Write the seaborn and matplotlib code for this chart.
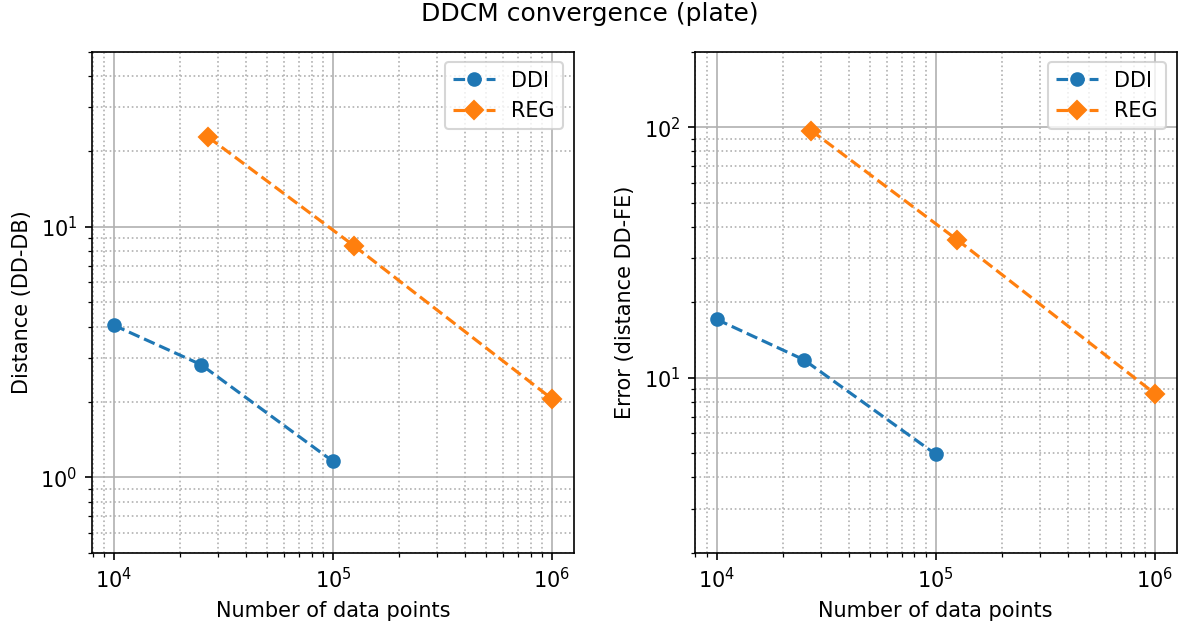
import matplotlib
matplotlib.use("Agg")
import matplotlib.pyplot as plt
import seaborn as sns

# data
ddi_n = [1e4, 2.5e4, 1e5]
reg_n = [2.7e4, 1.25e5, 1e6]

ddi_dist = [4.05, 2.82, 1.16]
reg_dist = [22.8, 8.4, 2.06]

ddi_err = [17.1, 11.8, 4.95]
reg_err = [97.0, 35.6, 8.65]

panels = [
    (ddi_dist, reg_dist, "Distance (DD-DB)", (0.5, 50)),
    (ddi_err, reg_err, "Error (distance DD-FE)", (2, 200)),
]

plt.rcParams['font.family'] = ['DejaVu Sans']
fig, axes = plt.subplots(1, 2, figsize=(7.86, 4.16), dpi=150)

for ax, (ddi_y, reg_y, ylabel, ylim) in zip(axes, panels):
    sns.lineplot(x=ddi_n, y=ddi_y, ax=ax, color='C0', marker='o', markersize=6,
                 markeredgewidth=1, markeredgecolor='C0', linestyle='--',
                 linewidth=1.5, label='DDI')
    sns.lineplot(x=reg_n, y=reg_y, ax=ax, color='C1', marker='D', markersize=6,
                 markeredgewidth=1, markeredgecolor='C1', linestyle='--',
                 linewidth=1.5, label='REG')
    ax.set_xscale('log')
    ax.set_yscale('log')
    ax.set_xlim(10 ** 3.9, 10 ** 6.1)
    ax.set_ylim(*ylim)
    ax.grid(True, which='major', color='#b0b0b0', linestyle='-', linewidth=0.8)
    ax.grid(True, which='minor', color='#b0b0b0', linestyle=':', linewidth=0.8)
    ax.set_xlabel('Number of data points', fontsize=10)
    ax.set_ylabel(ylabel, fontsize=10)
    ax.tick_params(labelsize=10)
    ax.legend(loc='upper right', fontsize=10)

fig.suptitle('DDCM convergence (plate)', fontsize=12, y=0.997)
plt.subplots_adjust(left=0.078, right=0.998, bottom=0.114, top=0.917, wspace=0.251)
plt.savefig('out.png', dpi=150)
